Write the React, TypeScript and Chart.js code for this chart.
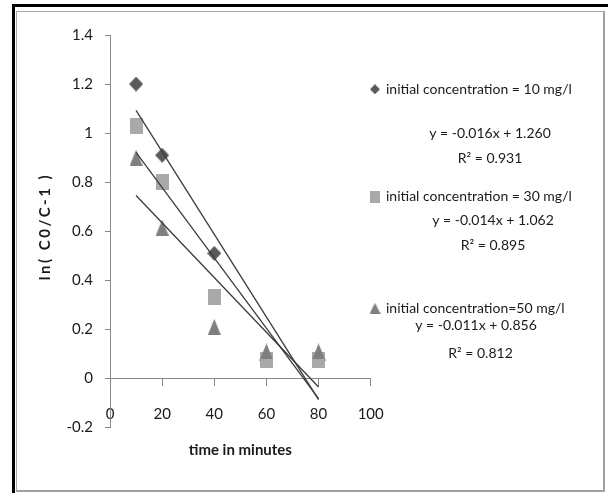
import React, { useEffect, useRef } from 'react';
import { Chart, registerables } from 'chart.js';

Chart.register(...registerables);

// ---------- data ----------
const timeMinutes = [10, 20, 40, 60, 80];
const conc10 = [1.2, 0.91, 0.51, 0.075, 0.075];
const conc30 = [1.03, 0.8, 0.333, 0.075, 0.075];
const conc50 = [0.9, 0.615, 0.21, 0.11, 0.11];
const seriesLabels = [
  'initial concentration = 10 mg/l',
  'initial concentration = 30 mg/l',
  'initial concentration=50 mg/l',
];
const equations = ['y = -0.016x + 1.260', 'y = -0.014x + 1.062', 'y = -0.011x + 0.856'];
const rSquared = ['R² = 0.931', 'R² = 0.895', 'R² = 0.812'];
const xTickValues = [0, 20, 40, 60, 80, 100];
const yTickValues = [-0.2, 0, 0.2, 0.4, 0.6, 0.8, 1, 1.2, 1.4];
const xTitle = 'time in minutes';
const yTitle = 'ln( C0/C-1 )';

// ---------- styles ----------
const COLORS = ['#5a5a5a', '#a9a9a9', '#7f7f7f'];
const TEXT = '#1a1a1a';
const AXIS = '#868686';
const FONT = 'Lato, "Open Sans", sans-serif';

function linearFit(xs: number[], ys: number[]) {
  const n = xs.length;
  const mx = xs.reduce((a, b) => a + b, 0) / n;
  const my = ys.reduce((a, b) => a + b, 0) / n;
  let sxy = 0;
  let sxx = 0;
  for (let i = 0; i < n; i++) {
    sxy += (xs[i] - mx) * (ys[i] - my);
    sxx += (xs[i] - mx) * (xs[i] - mx);
  }
  const slope = sxy / sxx;
  return { slope, intercept: my - slope * mx };
}

function makeMarker(kind: string, color: string, w: number, h: number) {
  const c = document.createElement('canvas');
  c.width = w;
  c.height = h;
  const ctx = c.getContext('2d')!;
  ctx.fillStyle = color;
  ctx.beginPath();
  if (kind === 'diamond') {
    ctx.moveTo(w / 2, 0);
    ctx.lineTo(w, h / 2);
    ctx.lineTo(w / 2, h);
    ctx.lineTo(0, h / 2);
  } else if (kind === 'square') {
    ctx.rect(0, 0, w, h);
  } else {
    ctx.moveTo(w / 2, 0);
    ctx.lineTo(w, h);
    ctx.lineTo(0, h);
  }
  ctx.closePath();
  ctx.fill();
  return c;
}

export default function App() {
  const canvasRef = useRef<HTMLCanvasElement | null>(null);

  useEffect(() => {
    const canvas = canvasRef.current;
    if (!canvas) return;

    const seriesData = [conc10, conc30, conc50];
    const markers = [
      makeMarker('diamond', COLORS[0], 14, 15),
      makeMarker('square', COLORS[1], 13, 16),
      makeMarker('triangle', COLORS[2], 13, 16),
    ];
    const legendMarkers = [
      makeMarker('diamond', COLORS[0], 10, 10),
      makeMarker('square', COLORS[1], 10, 12),
      makeMarker('triangle', COLORS[2], 11, 11),
    ];

    const pointSets = seriesData.map((ys, s) => ({
      type: 'scatter' as const,
      label: seriesLabels[s],
      data: timeMinutes.map((x, i) => ({ x, y: ys[i] })),
      pointStyle: markers[s],
      pointRadius: 7,
      showLine: false,
      order: 3 - s,
    }));

    const trendSets = seriesData.map((ys, s) => {
      const { slope, intercept } = linearFit(timeMinutes, ys);
      const x0 = timeMinutes[0];
      const x1 = timeMinutes[timeMinutes.length - 1];
      return {
        type: 'scatter' as const,
        label: 'trend ' + s,
        data: [
          { x: x0, y: intercept + slope * x0 },
          { x: x1, y: intercept + slope * x1 },
        ],
        showLine: true,
        borderColor: '#3c3c3c',
        borderWidth: 1.3,
        pointRadius: 0,
        order: 0,
      };
    });

    const textPlugin = {
      id: 'extraText',
      afterDraw(chart: any) {
        const ctx = chart.ctx as CanvasRenderingContext2D;
        const xs = chart.scales.x;
        ctx.save();
        ctx.fillStyle = TEXT;

        // y-axis title
        ctx.save();
        ctx.translate(45, 226.5);
        ctx.rotate(-Math.PI / 2);
        ctx.font = `bold 15px ${FONT}`;
        (ctx as any).letterSpacing = '2.5px';
        ctx.textAlign = 'center';
        ctx.textBaseline = 'middle';
        ctx.fillText(yTitle, 0, 0);
        ctx.restore();

        // x-axis title
        ctx.font = `bold 15px ${FONT}`;
        ctx.textAlign = 'center';
        ctx.textBaseline = 'middle';
        ctx.fillText(xTitle, (xs.left + xs.right) / 2, 450);

        // legend entries
        const legendY = [89.3, 196.7, 308.3];
        ctx.font = `14px ${FONT}`;
        ctx.textAlign = 'left';
        legendY.forEach((y, i) => {
          const m = legendMarkers[i];
          ctx.drawImage(m, 375 - m.width / 2, y - m.height / 2);
          ctx.fillText(seriesLabels[i], 386, y);
        });

        // equations
        ctx.textAlign = 'center';
        const eqPos = [
          [490, 133.3, 490, 158.3],
          [493, 220, 493, 245],
          [476, 325, 480.5, 353.3],
        ];
        eqPos.forEach((p, i) => {
          ctx.fillText(equations[i], p[0], p[1]);
          ctx.fillText(rSquared[i], p[2], p[3]);
        });
        ctx.restore();
      },
    };

    const tickFont = { family: FONT, size: 15 };

    const chart = new Chart(canvas, {
      type: 'scatter',
      data: { datasets: [...trendSets, ...pointSets] as any },
      options: {
        responsive: false,
        animation: false,
        devicePixelRatio: 1,
        layout: { padding: { left: 30, right: 237.3, top: 35, bottom: 65.5 } },
        plugins: { legend: { display: false }, tooltip: { enabled: false } },
        scales: {
          x: {
            type: 'linear',
            position: { y: 0 } as any,
            min: 0,
            max: 100,
            afterBuildTicks: (s: any) => {
              s.ticks = xTickValues.map((v) => ({ value: v }));
            },
            ticks: { font: tickFont, color: TEXT, padding: 20, maxRotation: 0, autoSkip: false },
            grid: { drawOnChartArea: false, drawTicks: true, tickLength: 7, color: AXIS },
            border: { color: AXIS, width: 1 },
          },
          y: {
            type: 'linear',
            position: 'left',
            min: -0.2,
            max: 1.4,
            afterFit: (s: any) => {
              s.width = 80;
            },
            afterBuildTicks: (s: any) => {
              s.ticks = yTickValues.map((v) => ({ value: v }));
            },
            ticks: {
              font: tickFont,
              color: TEXT,
              padding: 12,
              autoSkip: false,
              callback: (v: any) => String(Number(Number(v).toFixed(1))),
            },
            grid: { drawOnChartArea: false, drawTicks: true, tickLength: 5, color: AXIS },
            border: { color: AXIS, width: 1 },
          },
        },
      },
      plugins: [textPlugin],
    });

    return () => chart.destroy();
  }, []);

  return (
    <div style={{ position: 'fixed', left: 0, top: 0, width: 608, height: 493, background: '#fff', overflow: 'hidden' }}>
      <div
        style={{
          position: 'absolute',
          left: 12,
          top: 4,
          width: 620,
          height: 520,
          borderLeft: '3px solid #000',
          borderTop: '3px solid #000',
          boxSizing: 'border-box',
        }}
      />
      <div
        style={{
          position: 'absolute',
          left: 16,
          top: 11,
          width: 589,
          height: 481,
          borderLeft: '1px solid #a8a8a8',
          borderTop: '1px solid #a8a8a8',
          borderRight: '2px solid #a0a0a0',
          borderBottom: '2px solid #a0a0a0',
          boxSizing: 'border-box',
        }}
      />
      <canvas
        ref={canvasRef}
        width={608}
        height={493}
        style={{ position: 'absolute', left: 0, top: 0, width: 608, height: 493 }}
      />
    </div>
  );
}
